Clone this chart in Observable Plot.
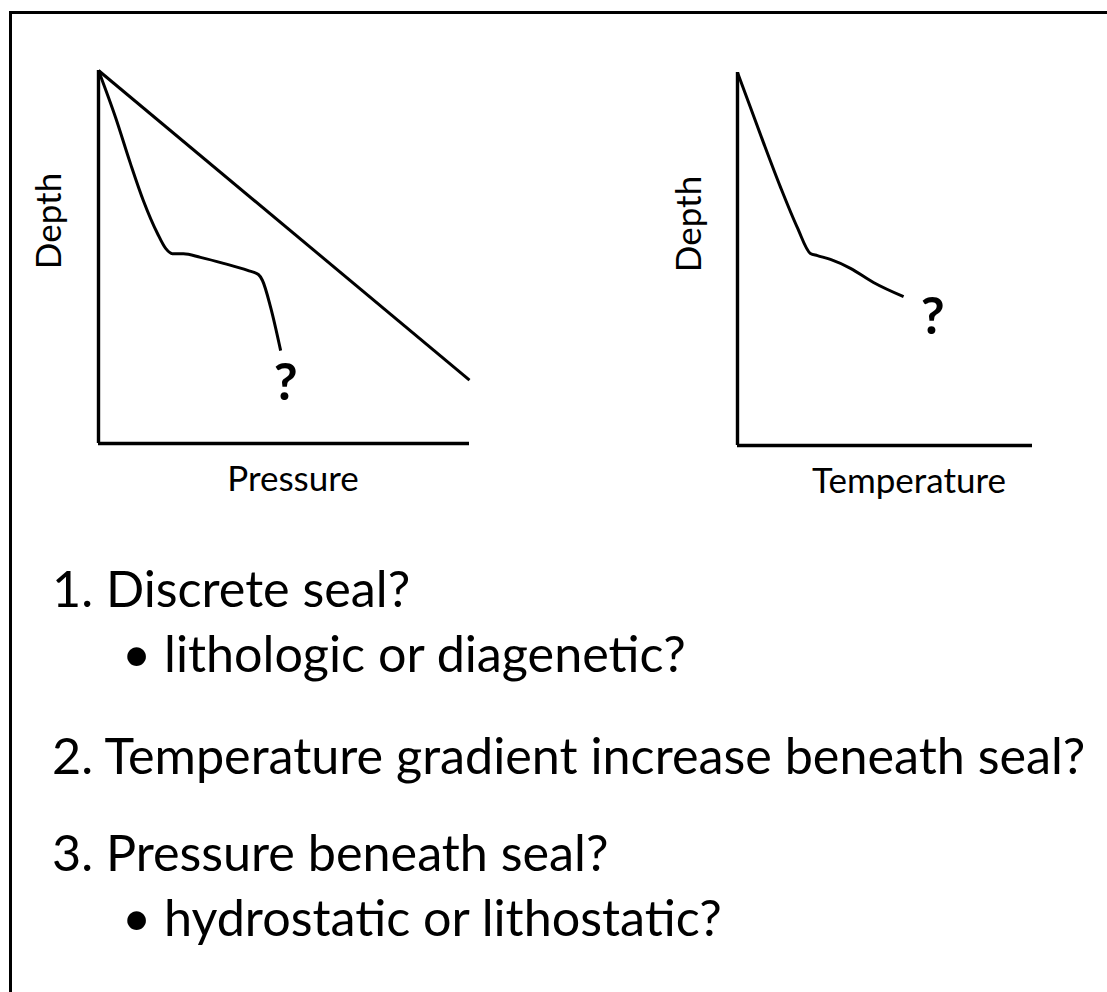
<!DOCTYPE html>
<html>
<head>
<meta charset="utf-8">
<script src="https://cdn.jsdelivr.net/npm/d3@7"></script>
<script src="https://cdn.jsdelivr.net/npm/@observablehq/plot@0.6"></script>
<style>
html, body { margin: 0; padding: 0; background: #fff; overflow: hidden; }
#page { position: relative; width: 1107px; height: 992px; overflow: hidden; font-family: Lato, "Open Sans", sans-serif; color: #000; background: #fff; }
#frameTop { position: absolute; left: 9px; top: 11px; width: 1098px; height: 3px; background: #000; }
#frameLeft { position: absolute; left: 9px; top: 11px; width: 3px; height: 981px; background: #000; }
#left { position: absolute; left: 0; top: 0; }
#right { position: absolute; left: 620px; top: 0; }
.note { position: absolute; white-space: nowrap; line-height: 1.2; }
</style>
</head>
<body>
<div id="page">
  <div id="frameTop"></div>
  <div id="frameLeft"></div>
  <div id="left"></div>
  <div id="right"></div>
  <div id="notes"></div>
</div>
<script>
// Pressure vs depth panel (arbitrary units, 0-100)
const lithostaticPressure = [0, 100];
const lithostaticDepth = [0, 83];
const porePressure = [0, 4.6, 8.6, 12.1, 15.9, 18.1, 19.9, 22.9, 27.5, 33.7, 40.2, 43.1, 44.2, 46.4, 49.1];
const poreDepth = [0, 12.6, 24.9, 34.9, 43.7, 47.7, 49.1, 49.1, 50.1, 51.7, 53.6, 54.7, 56.3, 63.5, 75.1];

// Temperature vs depth panel (arbitrary units, 0-100)
const temperature = [0, 4.4, 8.8, 14.6, 20.3, 24.7, 27.1, 31.5, 38.3, 46.1, 56.3];
const tempDepth = [0, 9.4, 18.8, 30.8, 41.6, 48.5, 49.1, 50.1, 52.5, 56.3, 60.1];

// Axis labels
const pressureLabels = {x: "Pressure", y: "Depth"};
const temperatureLabels = {x: "Temperature", y: "Depth"};

// Questions below the charts
const noteTexts = [
  "1. Discrete seal?",
  "• lithologic or diagenetic?",
  "2. Temperature gradient increase beneath seal?",
  "3. Pressure beneath seal?",
  "• hydrostatic or lithostatic?"
];
const noteLevels = [0, 1, 0, 0, 1];

const FONT = "Lato, 'Open Sans', sans-serif";

const litho = lithostaticPressure.map((x, i) => ({x, y: lithostaticDepth[i]}));
const pore = porePressure.map((x, i) => ({x, y: poreDepth[i]}));
const temp = temperature.map((x, i) => ({x, y: tempDepth[i]}));

function panel(opts) {
  return Plot.plot({
    width: opts.width,
    height: 520,
    marginLeft: opts.marginLeft,
    marginRight: opts.marginRight,
    marginTop: opts.marginTop,
    marginBottom: opts.marginBottom,
    x: {domain: [0, 100], axis: null},
    y: {domain: [0, 100], reverse: true, axis: null},
    style: {fontFamily: FONT, background: "transparent", color: "#000", overflow: "visible"},
    marks: [
      Plot.ruleX([0], {stroke: "#000", strokeWidth: 3.4}),
      Plot.ruleY([100], {stroke: "#000", strokeWidth: 3.4}),
      ...opts.lines.map(d => Plot.line(d, {x: "x", y: "y", stroke: "#000", strokeWidth: 3, strokeLinejoin: "round", strokeLinecap: "butt", curve: "monotone-x"})),
      Plot.text(opts.curve, Plot.selectLast({x: "x", y: "y", text: () => "?", dx: opts.qdx, dy: opts.qdy, fontSize: 52, fontWeight: "bold", fill: "#000"})),
      Plot.text([opts.labels.y], {frameAnchor: "left", textAnchor: "middle", lineAnchor: "middle", rotate: -90, dx: opts.ydx, dy: opts.ydy, fontSize: 35, fill: "#000"}),
      Plot.text([opts.labels.x], {frameAnchor: "bottom", textAnchor: "middle", lineAnchor: "middle", dx: opts.xdx, dy: 36, fontSize: 35, fill: "#000"})
    ]
  });
}

document.getElementById("left").append(panel({
  width: 520, marginLeft: 98, marginRight: 51, marginTop: 70, marginBottom: 77,
  lines: [litho, pore], curve: pore, labels: pressureLabels,
  qdx: 5, qdy: 33, ydx: -49, ydy: -36, xdx: 9
}));

document.getElementById("right").append(panel({
  width: 487, marginLeft: 117, marginRight: 75, marginTop: 72, marginBottom: 75,
  lines: [temp], curve: temp, labels: temperatureLabels,
  qdx: 29, qdy: 21, ydx: -48, ydy: -35, xdx: 24
}));

// Notes: fit font size so the longest line spans the same width as the reference
const ctx = document.createElement("canvas").getContext("2d");
ctx.font = `100px ${FONT}`;
const longest = ctx.measureText(noteTexts[2]).width;
const fs = 100 * 1035 / longest;
const baselines = [613, 678, 780, 877, 942];
const notes = document.getElementById("notes");
noteTexts.forEach((t, i) => {
  const div = document.createElement("div");
  div.className = "note";
  div.textContent = t;
  div.style.fontSize = fs + "px";
  div.style.left = (noteLevels[i] ? 122 : 52) + "px";
  div.style.top = (baselines[i] - 1.087 * fs) + "px";
  notes.append(div);
});
</script>
</body>
</html>
